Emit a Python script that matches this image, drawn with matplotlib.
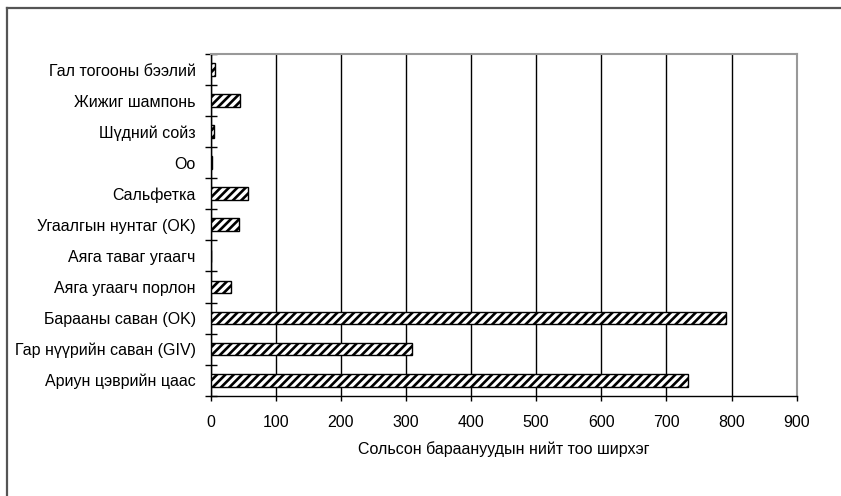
import numpy as np
import matplotlib.pyplot as plt
from matplotlib.lines import Line2D

plt.rcParams['font.family'] = ['Liberation Sans', 'DejaVu Sans']
plt.rcParams['hatch.linewidth'] = 1.9

products = ['Ариун цэврийн цаас', 'Гар нүүрийн саван (GIV)', 'Барааны саван (OK)',
            'Аяга угаагч порлон', 'Аяга таваг угаагч', 'Угаалгын нунтаг (OK)',
            'Сальфетка', 'Оо', 'Шүдний сойз', 'Жижиг шампонь', 'Гал тогооны бээлий']
sold = [733, 310, 791, 31, 0, 43, 58, 2, 5, 46, 7]
xticks = [0, 100, 200, 300, 400, 500, 600, 700, 800, 900]

W, H = 841, 496
fig = plt.figure(figsize=(W / 100, H / 100), dpi=100)
ax = fig.add_axes([210.5 / W, 1 - 395.7 / H, (796.7 - 210.5) / W, (395.7 - 54) / H])

y = np.arange(len(products))
ax.barh(y, sold, height=0.41, color='white', edgecolor='black', hatch='////', linewidth=1.0, zorder=3)

fs = 11.5
ax.set_xlim(0, 900)
ax.set_ylim(-0.5, len(products) - 0.5)
ax.set_xticks(xticks)
ax.set_xticklabels([str(v) for v in xticks], fontsize=fs)
ax.set_yticks(y)
ax.set_yticklabels(products, fontsize=fs)
ax.tick_params(axis='y', length=0, pad=10.7)
ax.set_yticks(np.arange(-0.5, len(products), 1), minor=True)
ax.tick_params(axis='y', which='minor', direction='inout', length=8.6, width=1)
ax.tick_params(axis='x', direction='out', length=3.6, width=1, pad=10)
ax.xaxis.grid(True, color='black', linewidth=1, zorder=0)
ax.set_axisbelow(True)

for s in ['top', 'right']:
    ax.spines[s].set_color('#999999')
    ax.spines[s].set_linewidth(1.5)
for s in ['left', 'bottom']:
    ax.spines[s].set_color('black')
    ax.spines[s].set_linewidth(1)

ax.set_xlabel('Сольсон бараануудын нийт тоо ширхэг', fontsize=fs, labelpad=8)

# outer frame of the chart area
fig.add_artist(Line2D([6.7 / W, 1.0], [1 - 8 / H, 1 - 8 / H], color='#555555', linewidth=1.6))
fig.add_artist(Line2D([6.7 / W, 6.7 / W], [0.0, 1 - 8 / H], color='#555555', linewidth=1.6))

fig.savefig('out.png', dpi=100)
